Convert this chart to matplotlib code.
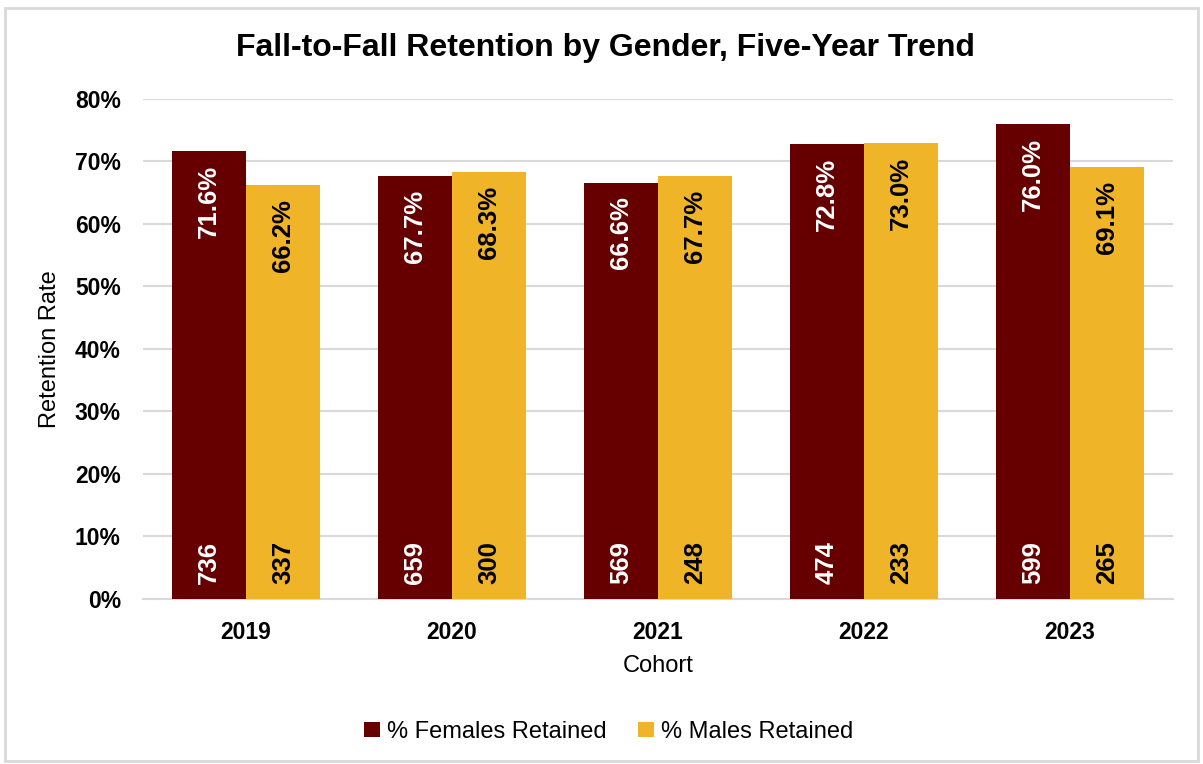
import numpy as np
import matplotlib
matplotlib.use("Agg")
import matplotlib.pyplot as plt
from matplotlib.patches import Rectangle

plt.rcParams["font.family"] = ["Liberation Sans", "DejaVu Sans"]

COHORTS = ["2019", "2020", "2021", "2022", "2023"]
FEMALE_RATE = [0.716, 0.677, 0.666, 0.728, 0.760]
MALE_RATE = [0.662, 0.683, 0.677, 0.730, 0.691]
FEMALE_N = [736, 659, 569, 474, 599]
MALE_N = [337, 300, 248, 233, 265]

RED = "#660000"
GOLD = "#F0B429"
GRID = "#D9D9D9"

fig = plt.figure(figsize=(12.03, 7.64), dpi=100)
fig.patches.append(Rectangle((0.004, 0.004), 0.992, 0.985, transform=fig.transFigure,
                             fill=False, edgecolor=GRID, linewidth=2))
ax = fig.add_axes([0.1189, 0.2160, 0.8562, 0.6545])

x = np.arange(len(COHORTS))
w = 0.359
b1 = ax.bar(x - w / 2, FEMALE_RATE, w, color=RED, label="% Females Retained", zorder=3)
b2 = ax.bar(x + w / 2, MALE_RATE, w, color=GOLD, label="% Males Retained", zorder=3)

for bars, rates, counts, tc in [(b1, FEMALE_RATE, FEMALE_N, "white"), (b2, MALE_RATE, MALE_N, "black")]:
    for r, v, n in zip(bars, rates, counts):
        cx = r.get_x() + r.get_width() / 2
        ax.annotate(f"{v * 100:.1f}%", (cx, v), xytext=(0, -10), textcoords="offset points",
                    rotation=90, ha="center", va="top", color=tc, fontsize=18.5,
                    fontweight="bold", zorder=4)
        ax.annotate(str(n), (cx, 0), xytext=(0, 11), textcoords="offset points",
                    rotation=90, ha="center", va="bottom", color=tc, fontsize=18.5,
                    fontweight="bold", zorder=4)

ax.set_xlim(-0.5, len(COHORTS) - 0.5)
ax.set_ylim(0, 0.8)
ax.set_yticks(np.arange(0, 0.81, 0.1))
ax.set_yticklabels([f"{int(round(t * 100))}%" for t in np.arange(0, 0.81, 0.1)],
                   fontsize=16.5, fontweight="bold")
ax.set_xticks(x)
ax.set_xticklabels(COHORTS, fontsize=16.5, fontweight="bold")
ax.tick_params(axis="both", length=0)
ax.tick_params(axis="x", pad=16)
ax.tick_params(axis="y", pad=16)
ax.grid(axis="y", color=GRID, linewidth=1.5, zorder=0)
for s in ["top", "right", "left"]:
    ax.spines[s].set_visible(False)
ax.spines["bottom"].set_color(GRID)
ax.spines["bottom"].set_linewidth(1.5)

ax.set_xlabel("Cohort", fontsize=17, labelpad=8)
ax.set_ylabel("Retention Rate", fontsize=17, labelpad=10)
fig.text(0.503, 0.937, "Fall-to-Fall Retention by Gender, Five-Year Trend",
         ha="center", va="center", fontsize=23, fontweight="bold")

fig.legend(handles=[b1, b2], loc="center", bbox_to_anchor=(0.506, 0.042), ncol=2,
           frameon=False, fontsize=17, handlelength=0.65, handleheight=0.65,
           handletextpad=0.3, columnspacing=1.35)

fig.savefig("out.png", dpi=100)
